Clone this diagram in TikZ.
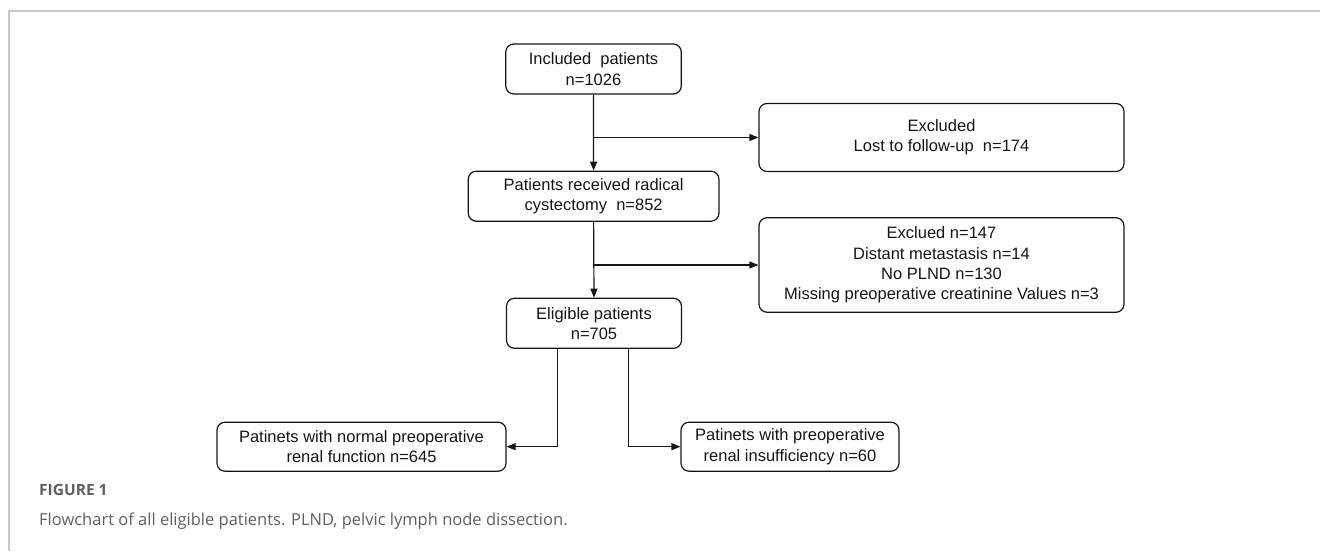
\documentclass[tikz,border=0pt]{standalone}
\usepackage{fontspec}
\setmainfont{Liberation Sans}
\newfontfamily\capfont{Open Sans}
\usetikzlibrary{arrows.meta}
\definecolor{framegray}{HTML}{C8C8C8}
\definecolor{capgray}{HTML}{5F5F5F}
\definecolor{linek}{HTML}{151515}
\begin{document}
\begin{tikzpicture}[x=1pt,y=-1pt,
  box/.style={draw=linek, line width=1.2pt, rounded corners=8pt, align=center,
    font=\fontsize{16.5}{20.3}\selectfont, inner sep=0pt, text=linek},
  arr/.style={draw=linek, line width=1.2pt, -{Triangle[length=9pt,width=7pt]}},
  frameline/.style={draw=framegray, line width=1.5pt},
  captxt/.style={anchor=base west, inner sep=0pt, text=capgray}]
\useasboundingbox (0,0) rectangle (1320,553);
% frame
\coordinate (ftl) at (9,11);
\coordinate (ftr) at (1320,11);
\coordinate (fbl) at (9,551);
\draw[frameline] (fbl) -- (ftl) -- (ftr);
% boxes
\node[box, minimum width=175.5pt, minimum height=50pt] (inc) at (593.5,69) {Included\ \ patients\\n=1026};
\node[box, minimum width=250.7pt, minimum height=50pt] (rad) at (593.6,196.2) {Patients received radical\\cystectomy\ \ n=852};
\node[box, minimum width=365pt, minimum height=68pt] (ex1) at (941.5,137.5) {Excluded\\Lost to follow-up\ \ n=174};
\node[box, minimum width=365pt, minimum height=94.5pt] (ex2) at (941.5,265) {Exclued n=147\\Distant metastasis n=14\\No PLND n=130\\Missing preoperative creatinine Values n=3};
\node[box, minimum width=175pt, minimum height=50pt] (eli) at (594,323.3) {Eligible patients\\n=705};
\node[box, minimum width=289pt, minimum height=49pt] (nor) at (361.5,446.7) {Patinets with normal preoperative\\renal function n=645};
\node[box, minimum width=218pt, minimum height=49pt] (ren) at (790,446.7) {Patinets with preoperative\\renal insufficiency n=60};
% connectors
\draw[arr] (inc.south) -- (rad.north);
\coordinate (b1) at (inc.south |- ex1.west);
\draw[arr] (b1) -- (ex1.west);
\draw[arr] (rad.south) -- (eli.north);
\coordinate (b2) at (rad.south |- ex2.west);
\draw[arr] (b2) -- (ex2.west);
\draw[arr] ([xshift=-36.7pt]eli.south) |- (nor.east);
\draw[arr] ([xshift=34.5pt]eli.south) |- (ren.west);
% caption
\node[captxt, font=\capfont\bfseries\fontsize{15.5}{18}\selectfont] (fig) at (39,495) {FIGURE 1};
\node[captxt, font=\capfont\fontsize{16.5}{20}\selectfont] (cap) at (39,525) {Flowchart of all eligible patients. PLND, pelvic lymph node dissection.};
\end{tikzpicture}
\end{document}
